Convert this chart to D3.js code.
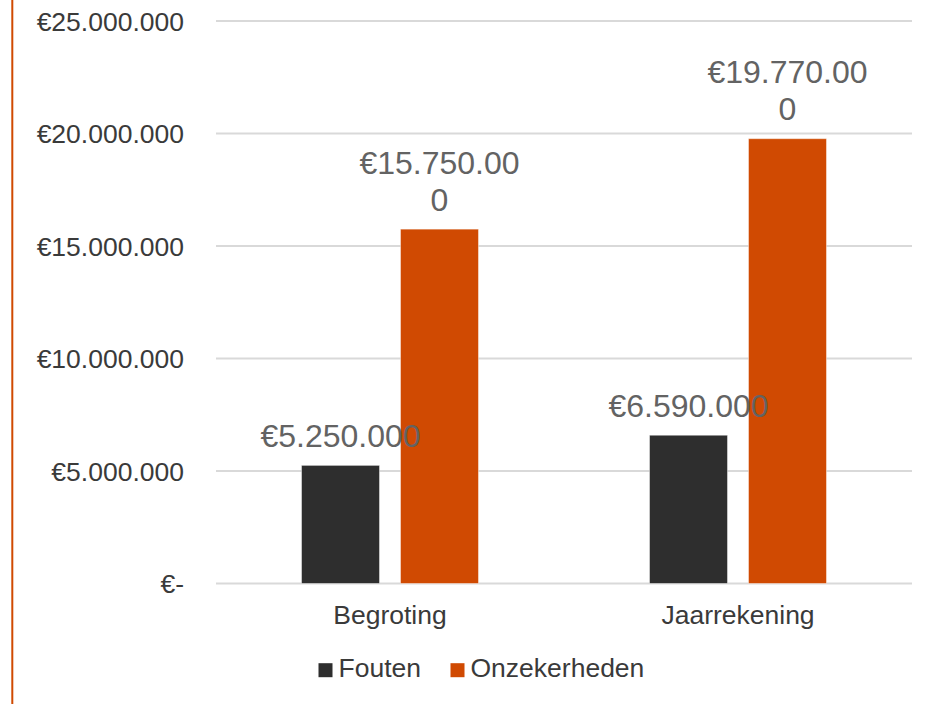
<!DOCTYPE html>
<html>
<head>
<meta charset="utf-8">
<script src="https://cdn.jsdelivr.net/npm/d3@7"></script>
<style>
  html, body { margin: 0; padding: 0; background: #ffffff; }
  svg { display: block; font-family: "Liberation Sans", Arial, sans-serif; }
</style>
</head>
<body>
<svg id="chart" width="940" height="704"></svg>
<script>
// Chart data
const categories = ["Begroting", "Jaarrekening"];
const seriesNames = ["Fouten", "Onzekerheden"];
const fouten = [5250000, 6590000];
const onzekerheden = [15750000, 19770000];
const yTicks = [0, 5000000, 10000000, 15000000, 20000000, 25000000];
const seriesColors = ["#2e2e2e", "#d04a02"];
// Labels of this series are wrapped over two lines
const wrappedSeries = ["Onzekerheden"];

const seriesValues = [fouten, onzekerheden];

const svg = d3.select("#chart");
const W = 940, H = 704;
const plot = { left: 216, right: 912, top: 21, bottom: 583.5 };

const nl = d3.formatLocale({
  decimal: ",", thousands: ".", grouping: [3], currency: ["€", ""]
});
const fmtNum = nl.format(",.0f");
const euro = v => v === 0 ? "€-" : "€" + fmtNum(v);

const y = d3.scaleLinear().domain([0, 25000000]).range([plot.bottom, plot.top]);
const x0 = d3.scaleBand().domain(categories).range([plot.left, plot.right]).padding(0);
const x1 = d3.scaleBand().domain(seriesNames).range([0, x0.bandwidth()])
  .paddingInner(0.212).paddingOuter(0.864);

// Left accent rule
svg.append("line")
  .attr("x1", 12.3).attr("x2", 12.3).attr("y1", 0).attr("y2", H)
  .attr("stroke", "#d04a02").attr("stroke-width", 2);

// Gridlines
svg.append("g").selectAll("line").data(yTicks).join("line")
  .attr("x1", plot.left).attr("x2", plot.right)
  .attr("y1", d => y(d)).attr("y2", d => y(d))
  .attr("stroke", "#d9d9d9").attr("stroke-width", d => d === 0 ? 2.2 : 1.8);

// Y axis labels
const yAxis = d3.axisLeft(y).tickValues(yTicks).tickFormat(euro).tickSize(0).tickPadding(0);
const yg = svg.append("g").attr("transform", "translate(184,0)").call(yAxis);
yg.select(".domain").remove();
yg.selectAll("text")
  .attr("font-size", 26.5).attr("fill", "#3a3a3a")
  .attr("font-family", "'Liberation Sans', Arial, sans-serif")
  .attr("dy", "0.35em");

// X axis labels
const xAxis = d3.axisBottom(x0).tickSize(0).tickPadding(0);
const xg = svg.append("g").attr("transform", "translate(0,623.5)").call(xAxis);
xg.select(".domain").remove();
xg.selectAll("text")
  .attr("font-size", 26.5).attr("fill", "#3a3a3a")
  .attr("font-family", "'Liberation Sans', Arial, sans-serif")
  .attr("dy", 0).attr("y", 0);

// Bars
const barData = [];
categories.forEach((c, i) => {
  seriesNames.forEach((s, j) => {
    barData.push({ cat: c, series: s, value: seriesValues[j][i], color: seriesColors[j] });
  });
});

svg.append("g").selectAll("rect").data(barData).join("rect")
  .attr("x", d => x0(d.cat) + x1(d.series))
  .attr("width", x1.bandwidth())
  .attr("y", d => y(d.value))
  .attr("height", d => y(0) - y(d.value))
  .attr("fill", d => d.color)
  .attr("stroke", "#ffffff").attr("stroke-opacity", 0.45).attr("stroke-width", 1);

// Data labels
const labelG = svg.append("g");
barData.forEach(d => {
  const text = euro(d.value);
  const lines = wrappedSeries.includes(d.series) ? [text.slice(0, 10), text.slice(10)] : [text];
  const cx = x0(d.cat) + x1(d.series) + x1.bandwidth() / 2;
  const lastBase = y(d.value) - 18.5;
  const t = labelG.append("text")
    .attr("text-anchor", "middle")
    .attr("font-size", 32).attr("fill", "#636363");
  lines.forEach((ln, k) => {
    t.append("tspan")
      .attr("x", cx)
      .attr("y", lastBase - (lines.length - 1 - k) * 37)
      .text(ln);
  });
});

// Legend
const legend = svg.append("g");
const legendX = [318.5, 450.5];
seriesNames.forEach((s, j) => {
  legend.append("rect")
    .attr("x", legendX[j]).attr("y", 663.2)
    .attr("width", 14).attr("height", 14)
    .attr("fill", seriesColors[j]);
  legend.append("text")
    .attr("x", legendX[j] + 20).attr("y", 677)
    .attr("font-size", 26.5).attr("fill", "#3a3a3a")
    .text(s);
});
</script>
</body>
</html>
